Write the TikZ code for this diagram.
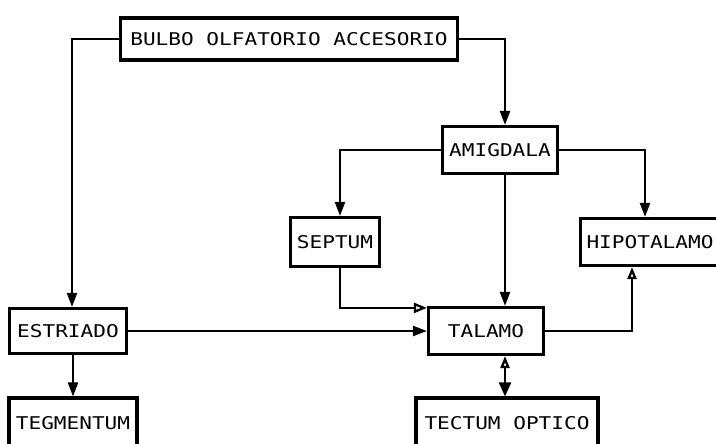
\documentclass[tikz,border=0pt]{standalone}
\usepackage{fontspec}
\newfontfamily\plotter[FakeStretch=1.2]{DejaVu Sans Mono}
\usetikzlibrary{arrows.meta}

\begin{document}
\begin{tikzpicture}[
    x=0.02cm, y=-0.02cm,
    box/.style={draw, line width=1.8pt, inner sep=0pt, minimum height=0.9cm,
                font=\plotter\fontsize{10}{12}\selectfont},
    line width=1.3pt,
    >={Triangle[length=0.28cm, width=0.2cm]}
  ]
  \clip (0,0) rectangle (716,443);
  \useasboundingbox (0,0) rectangle (716,443);

  % Top box
  \node[box, minimum width=6.74cm, minimum height=0.84cm] (bulbo) at (289,39) {BULBO OLFATORIO ACCESORIO};

  % Middle row
  \node[box, minimum width=2.3cm, minimum height=0.94cm] (amig) at (500,150) {AMIGDALA};
  \node[box, minimum width=1.78cm, minimum height=0.98cm] (septum) at (335,242) {SEPTUM};
  \node[box, minimum width=2.78cm, minimum height=0.94cm] (hipo) at (650,242) {HIPOTALAMO};

  % Lower row
  \node[box, minimum width=2.34cm] (estriado) at (68,331) {ESTRIADO};
  \node[box, minimum width=2.3cm, minimum height=0.94cm] (talamo) at (486,331) {TALAMO};

  % Bottom boxes (cut by the page edge)
  \node[box, minimum width=2.56cm, minimum height=1cm] (tegmentum) at (73,423) {TEGMENTUM};
  \node[box, minimum width=3.64cm, minimum height=1cm] (tectum) at (507,423) {TECTUM OPTICO};

  % Wiring
  \draw[->] (bulbo.west) -| ([xshift=0.08cm]estriado.north);
  \draw[->] (bulbo.east) -| ([xshift=0.1cm]amig.north);
  \draw[->] (amig.west) -| ([xshift=0.1cm]septum.north);
  \draw[->] (amig.east) -| ([xshift=-0.1cm]hipo.north);
  \draw[->] ([xshift=0.1cm]amig.south) -- ([xshift=0.1cm]amig.south |- talamo.north);

  \draw[-{Triangle[open, length=0.26cm, width=0.2cm]}] ([xshift=0.1cm]septum.south) |- ([yshift=-0.04cm]talamo.north west);
  \draw[->] (estriado.east) -- (talamo.west);
  \draw[-{Triangle[open, length=0.24cm, width=0.18cm]}] (talamo.east) -| ([xshift=-0.36cm]hipo.south);

  \draw[{Triangle[open, length=0.24cm, width=0.18cm]}-{Triangle[length=0.28cm, width=0.24cm]}]
    ([xshift=0.38cm]talamo.south) -- ([xshift=0.38cm]talamo.south |- tectum.north);
  \draw[->] (tegmentum.north |- estriado.south) -- (tegmentum.north);
\end{tikzpicture}
\end{document}
